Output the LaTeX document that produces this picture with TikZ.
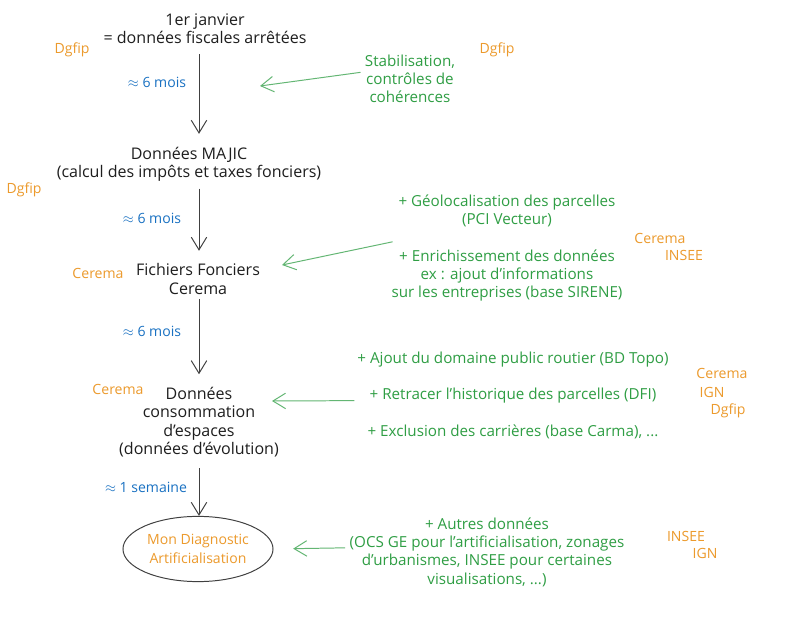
\documentclass[tikz,border=0pt]{standalone}
\usepackage{fontspec}
\setmainfont{Open Sans}
\usepackage{xcolor}
\usetikzlibrary{arrows.meta, positioning, shapes.geometric}

\definecolor{ink}{HTML}{1E1E1E}
\definecolor{leaf}{HTML}{2F9E44}
\definecolor{sky}{HTML}{1971C2}
\definecolor{amber}{HTML}{EC9A2C}

\begin{document}
\begin{tikzpicture}[
    x=0.025cm, y=-0.025cm,
    font=\fontsize{10}{13}\selectfont,
    stage/.style={align=center, text=ink, inner sep=1pt, font=\fontsize{11.4}{13}\selectfont},
    source/.style={text=amber, inner sep=1pt},
    lag/.style={text=sky, inner sep=1pt},
    addon/.style={align=center, text=leaf, inner sep=1pt, font=\fontsize{10.8}{13}\selectfont},
    flow/.style={draw=ink!85, line width=0.7pt, -{Straight Barb[length=9pt, width=11pt]}},
    feed/.style={draw=leaf!75, line width=0.7pt, -{Straight Barb[length=9pt, width=11pt]}}
]
    \fill[white] (0,0) rectangle (812,623);
    \useasboundingbox (0,0) rectangle (812,623);
    \coordinate (axis) at (199,0);

    % main chain
    \node[stage] (janv) at (205,29) {1er janvier\\= données fiscales arrêtées};
    \node[stage] (majic) at (189,164) {Données MAJIC\\(calcul des impôts et taxes fonciers)};
    \node[stage] (ff) at (198,279) {Fichiers Fonciers\\Cerema};
    \node[stage] (conso) at (199,422) {Données\\consommation\\d'espaces\\(données d'évolution)};
    \node[ellipse, draw=ink!85, line width=0.7pt, text=amber, align=center,
          minimum width=3.75cm, minimum height=1.63cm, inner sep=0pt] (mda) at (198,549) {Mon Diagnostic\\Artificialisation};

    \draw[flow, shorten <=6pt, shorten >=8pt] (janv.south -| axis) -- (majic.north -| axis);
    \draw[flow, shorten <=4pt, shorten >=8pt] (majic.south -| axis) -- (ff.north -| axis);
    \draw[flow, shorten <=2pt, shorten >=8pt] (ff.south -| axis) -- (conso.north -| axis);
    \draw[flow, shorten <=7pt] (conso.south -| axis) -- (mda.north -| axis);

    % delays
    \node[lag] (lag1) at (157,82) {$\approx$ 6 mois};
    \node[lag] (lag2) at (152,218) {$\approx$ 6 mois};
    \node[lag] (lag3) at (152,331) {$\approx$ 6 mois};
    \node[lag] (lag4) at (146,487) {$\approx$ 1 semaine};

    % producers
    \node[source] (who1) at (72,50) {Dgfip};
    \node[source] (who1b) at (497,50) {Dgfip};
    \node[source] (who2) at (24,190) {Dgfip};
    \node[source] (who3) at (98,273) {Cerema};
    \node[source] (who3b) at (660,238) {Cerema};
    \node[source] (who3c) at (684,255) {INSEE};
    \node[source] (who4) at (118,389) {Cerema};
    \node[source] (who4b) at (722,373) {Cerema};
    \node[source] (who4c) at (712,392) {IGN};
    \node[source] (who4d) at (728,411) {Dgfip};
    \node[source] (who5) at (686,536) {INSEE};
    \node[source] (who5b) at (705,553) {IGN};

    % treatments
    \node[addon] (add1) at (410,79) {Stabilisation,\\contrôles de\\cohérences};
    \node[addon] (add2) at (507,248) {+ Géolocalisation des parcelles\\(PCI Vecteur)\\[13pt]+ Enrichissement des données\\ex : ajout d'informations\\sur les entreprises (base SIRENE)};
    \node[addon] (add3) at (513,395) {+ Ajout du domaine public routier (BD Topo)\\[13pt]+ Retracer l'historique des parcelles (DFI)\\[13pt]+ Exclusion des carrières (base Carma), ...};
    \node[addon] (add4) at (487,552) {+ Autres données\\(OCS GE pour l'artificialisation, zonages\\d'urbanismes, INSEE pour certaines\\visualisations, ...)};

    \coordinate (tip1) at (260,86);
    \coordinate (tip2) at (282,265);
    \coordinate (tip3) at (272,401);
    \draw[feed, shorten <=2pt] ([yshift=5pt]add1.west) -- (tip1);
    \draw[feed, shorten <=-2pt] ([yshift=4pt]add2.west) -- (tip2);
    \draw[feed, shorten <=1pt] ([yshift=-4pt]add3.west) -- (tip3);
    \draw[feed, shorten <=2pt, shorten >=14pt] ([yshift=3pt]add4.west) -- (mda.east);
\end{tikzpicture}
\end{document}
